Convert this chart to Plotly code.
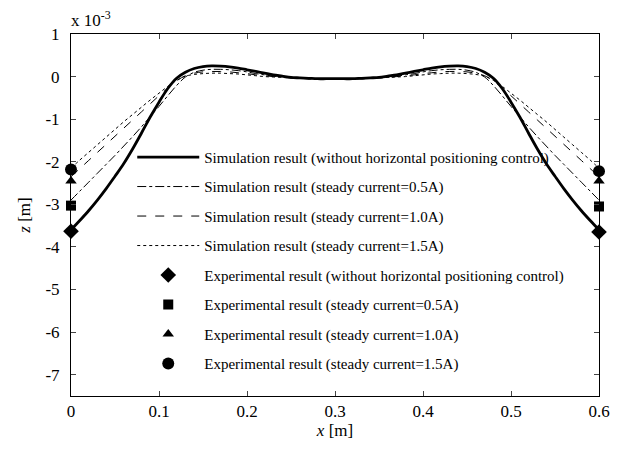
import plotly.graph_objects as go

# x positions (m) for half span; right half mirrored
x_half = [0.0, 0.01, 0.02, 0.03, 0.04, 0.05, 0.06, 0.07, 0.08, 0.09, 0.10, 0.11, 0.12, 0.13,
          0.14, 0.15, 0.16, 0.17, 0.18, 0.19, 0.20, 0.21, 0.22, 0.23, 0.24, 0.25, 0.26, 0.27,
          0.28, 0.29, 0.30]

# z values (x 1e-3 m)
z_no_ctrl = [-3.6, -3.38, -3.15, -2.9, -2.63, -2.34, -2.04, -1.7, -1.33, -0.95, -0.6, -0.28,
             -0.04, 0.1, 0.19, 0.235, 0.25, 0.245, 0.23, 0.2, 0.16, 0.12, 0.08, 0.04, 0.01, -0.02,
             -0.03, -0.04, -0.05, -0.05, -0.05]
z_05A = [-2.9, -2.69, -2.48, -2.27, -2.06, -1.85, -1.63, -1.41, -1.18, -0.94, -0.7, -0.45,
         -0.21, -0.01, 0.1, 0.15, 0.17, 0.17, 0.16, 0.14, 0.11, 0.07, 0.04, 0.01, -0.01, -0.03,
         -0.04, -0.05, -0.05, -0.05, -0.05]
z_10A = [-2.35, -2.16, -1.97, -1.78, -1.59, -1.4, -1.21, -1.02, -0.83, -0.64, -0.45, -0.27,
         -0.1, 0.02, 0.08, 0.11, 0.12, 0.12, 0.11, 0.09, 0.07, 0.04, 0.02, 0.0, -0.02, -0.03,
         -0.04, -0.05, -0.05, -0.05, -0.05]
z_15A = [-2.15, -1.96, -1.78, -1.6, -1.42, -1.24, -1.06, -0.89, -0.72, -0.55, -0.39, -0.23,
         -0.09, 0.01, 0.05, 0.07, 0.08, 0.08, 0.07, 0.06, 0.04, 0.02, 0.0, -0.01, -0.02, -0.03,
         -0.04, -0.05, -0.05, -0.05, -0.05]

x_exp = [0.0, 0.6]
exp_no_ctrl = [-3.63, -3.65]
exp_05A = [-3.03, -3.05]
exp_10A = [-2.45, -2.45]
exp_15A = [-2.18, -2.22]

def full(xs, zs):
    xf = xs + [round(0.6 - v, 3) for v in reversed(xs[:-1])]
    zf = zs + list(reversed(zs[:-1]))
    return xf, zf

names_sim = ["Simulation result (without horizontal positioning control)",
             "Simulation result (steady current=0.5A)",
             "Simulation result (steady current=1.0A)",
             "Simulation result (steady current=1.5A)"]
names_exp = ["Experimental result (without horizontal positioning control)",
             "Experimental result (steady current=0.5A)",
             "Experimental result (steady current=1.0A)",
             "Experimental result (steady current=1.5A)"]

fig = go.Figure()
sims = [z_no_ctrl, z_05A, z_10A, z_15A]
dashes = ["solid", "dashdot", "dash", "dot"]
widths = [2.8, 1, 1, 1]
for i, (zs, d, w) in enumerate(zip(sims, dashes, widths)):
    xf, zf = full(x_half, zs)
    fig.add_trace(go.Scatter(x=xf, y=zf, mode="lines", name=names_sim[i],
                             line=dict(color="black", width=w, dash=d, shape="spline", smoothing=1),
                             legendgroup=f"g{i}"))
exps = [exp_no_ctrl, exp_05A, exp_10A, exp_15A]
symbols = ["diamond", "square", "triangle-up", "circle"]
sizes = [12, 10, 10, 12]
for i, (zs, s, sz) in enumerate(zip(exps, symbols, sizes)):
    fig.add_trace(go.Scatter(x=x_exp, y=zs, mode="markers", name=names_exp[i],
                             marker=dict(color="black", symbol=s, size=sz),
                             cliponaxis=False, legendgroup=f"e{i}"))

font = "Liberation Serif, Times New Roman, serif"
yt = [1, 0, -1, -2, -3, -4, -5, -6, -7]
xt = [0, 0.1, 0.2, 0.3, 0.4, 0.5, 0.6]
fig.update_layout(
    width=617, height=441,
    margin=dict(l=63, r=26, t=26, b=53),
    paper_bgcolor="white", plot_bgcolor="white",
    font=dict(family=font, color="black", size=17),
    legend=dict(x=0.116, y=0.705, xanchor="left", yanchor="top",
                font=dict(size=15, family=font), itemwidth=62,
                tracegroupgap=7, bgcolor="rgba(0,0,0,0)"),
    xaxis=dict(range=[0, 0.6], tickvals=xt, ticktext=[str(v) for v in xt],
               ticks="inside", ticklen=5, showline=True, linecolor="black", mirror="ticks",
               showgrid=False, zeroline=False, automargin=False,
               title=dict(text="<i>x</i> [m]", standoff=2, font=dict(size=17))),
    yaxis=dict(range=[-7.5, 1], tickvals=yt, ticktext=[str(v) for v in yt],
               ticks="inside", ticklen=5, showline=True, linecolor="black", mirror="ticks",
               showgrid=False, zeroline=False, automargin=False, ticklabelstandoff=7,
               title=dict(text="<i>z</i> [m]", standoff=10, font=dict(size=17))),
    annotations=[dict(text="x 10<sup>-3</sup>", xref="paper", yref="paper", x=0, y=1,
                      xanchor="left", yanchor="bottom", showarrow=False,
                      font=dict(size=17, family=font), xshift=-2, yshift=2)],
)
fig.write_html("out.html")
